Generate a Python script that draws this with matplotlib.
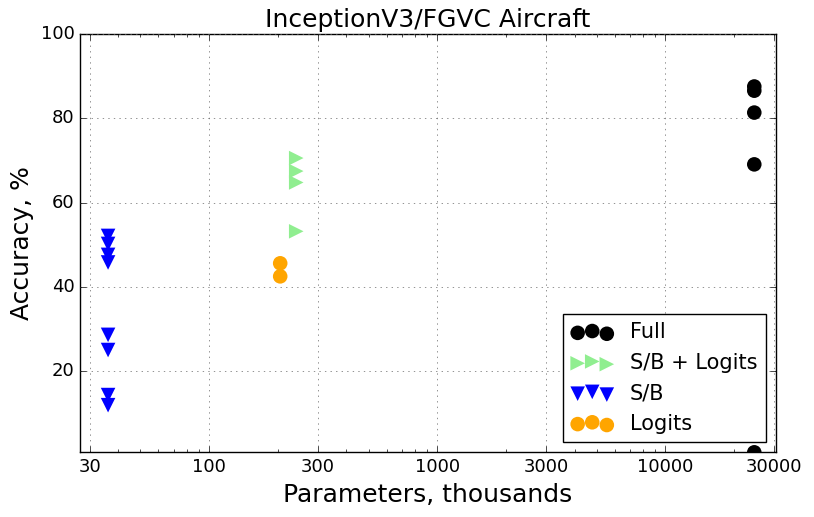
import matplotlib
matplotlib.use('Agg')
import matplotlib.pyplot as plt
from matplotlib.ticker import FixedLocator, FixedFormatter

# parameters (thousands) and accuracy (%) per setup
full_params = [24500, 24500, 24500, 24500, 24500]
full_acc = [87.6, 86.6, 81.4, 69.1, 0.7]

sb_logits_params = [241, 241, 241, 241]
sb_logits_acc = [70.6, 67.5, 64.8, 53.2]

sb_params = [36.1, 36.1, 36.1, 36.1, 36.1, 36.1, 36.1, 36.1]
sb_acc = [52.1, 50.2, 47.6, 45.8, 28.6, 25.0, 14.3, 11.9]

logits_params = [205, 205]
logits_acc = [45.6, 42.5]

xticks = [30, 100, 300, 1000, 3000, 10000, 30000]
xtick_labels = ['30', '100', '300', '1000', '3000', '10000', '30000']

plt.style.use('classic')
fig = plt.figure(figsize=(8.14, 5.17), dpi=100, facecolor='white')
ax = fig.add_axes([0.0983, 0.1251, 0.8550, 0.8086])

ax.scatter(full_params, full_acc, s=110, c='black', marker='o',
           edgecolors='none', label='Full', zorder=3)
ax.scatter(sb_logits_params, sb_logits_acc, s=110, c='lightgreen', marker='>',
           edgecolors='none', label='S/B + Logits', zorder=3)
ax.scatter(sb_params, sb_acc, s=110, c='blue', marker='v',
           edgecolors='none', label='S/B', zorder=3)
ax.scatter(logits_params, logits_acc, s=110, c='orange', marker='o',
           edgecolors='none', label='Logits', zorder=3)

ax.set_xscale('log')
ax.set_xlim(27.2, 30500)
ax.set_ylim(0.7, 100)
ax.xaxis.set_major_locator(FixedLocator(xticks))
ax.xaxis.set_major_formatter(FixedFormatter(xtick_labels))
ax.set_yticks([20, 40, 60, 80, 100])
ax.tick_params(labelsize=13)
ax.grid(True, linestyle=':', color='0.4')

ax.set_title('InceptionV3/FGVC Aircraft', fontsize=18, pad=5)
ax.set_xlabel('Parameters, thousands', fontsize=18)
ax.set_ylabel('Accuracy, %', fontsize=18)
ax.legend(loc='lower right', fontsize=15, scatterpoints=3)

fig.savefig('out.png', dpi=100, facecolor='white')
